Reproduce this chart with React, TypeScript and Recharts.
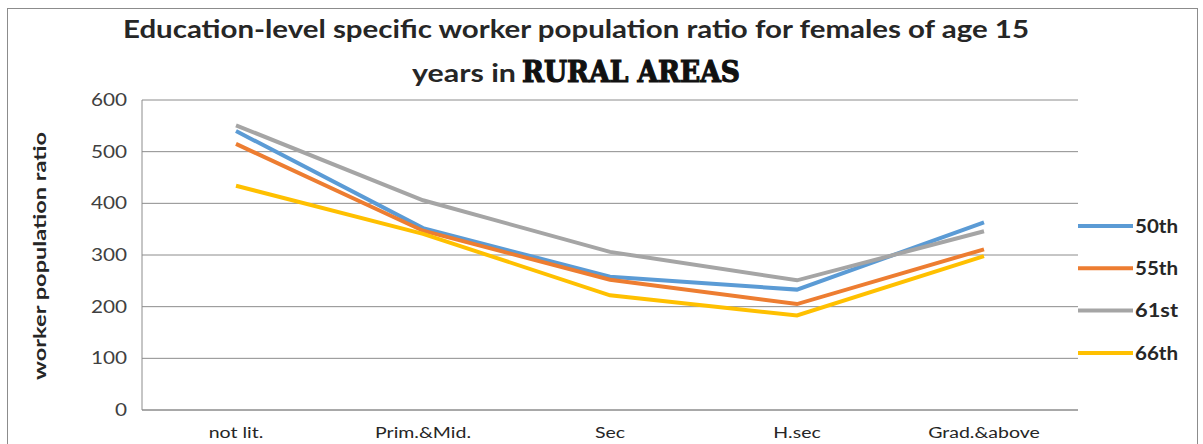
import React from 'react';
import { LineChart, Line, XAxis, YAxis, CartesianGrid } from 'recharts';

// education levels on the x axis
const levels = ['not lit.', 'Prim.&Mid.', 'Sec', 'H.sec', 'Grad.&above'];

// NSS rounds, worker population ratio per 1000
const round50 = [540, 352, 258, 233, 363];
const round55 = [515, 347, 252, 205, 311];
const round61 = [551, 406, 306, 251, 346];
const round66 = [434, 341, 222, 183, 298];

const yTicks = [0, 100, 200, 300, 400, 500, 600];

const series = [
  { key: '50th', values: round50, color: '#5B9BD5' },
  { key: '55th', values: round55, color: '#ED7D31' },
  { key: '61st', values: round61, color: '#A5A5A5' },
  { key: '66th', values: round66, color: '#FFC000' },
];

const data = levels.map((level, i) => {
  const row: Record<string, string | number> = { level };
  series.forEach((s) => {
    row[s.key] = s.values[i];
  });
  return row;
});

const FONT = 'Lato, "Open Sans", sans-serif';
const INK = '#262626';
const GRID = '#8c8c8c';
// the sheet's text is a little wider than Lato
const STRETCH = 1.22;

const XTick = (props: any) => {
  const { x, y, payload } = props;
  return (
    <g transform={`translate(${x},${y}) scale(${STRETCH},1)`}>
      <text textAnchor="middle" dy="0.71em" fill={INK} fontSize={16} fontFamily={FONT}>
        {payload.value}
      </text>
    </g>
  );
};

const YTick = (props: any) => {
  const { x, y, payload } = props;
  return (
    <g transform={`translate(${x},${y}) scale(${STRETCH},1)`}>
      <text textAnchor="end" dy="0.36em" fill="#404040" fontSize={17} fontFamily={FONT}>
        {payload.value}
      </text>
    </g>
  );
};

export default function App() {
  return (
    <div
      style={{
        position: 'absolute',
        left: 0,
        top: 0,
        width: 1203,
        height: 444,
        background: '#fff',
        overflow: 'hidden',
      }}
    >
      <LineChart
        width={1203}
        height={444}
        data={data}
        margin={{ top: 100, right: 125, bottom: 0, left: 0 }}
        style={{ position: 'absolute', left: 0, top: 0 }}
      >
        <CartesianGrid vertical={false} stroke={GRID} />
        <XAxis
          dataKey="level"
          height={34}
          padding={{ left: 94, right: 94 }}
          tickLine={false}
          tickSize={0}
          tickMargin={17}
          axisLine={{ stroke: GRID }}
          tick={<XTick />}
        />
        <YAxis
          width={142}
          domain={[0, 600]}
          ticks={yTicks}
          tickLine={false}
          tickSize={0}
          tickMargin={15}
          axisLine={{ stroke: GRID }}
          tick={<YTick />}
        />
        {series.map((s) => (
          <Line
            key={s.key}
            type="linear"
            dataKey={s.key}
            stroke={s.color}
            strokeWidth={4}
            dot={false}
            isAnimationActive={false}
          />
        ))}
      </LineChart>

      {/* frame, titles and legend drawn over the chart */}
      <svg
        width={1203}
        height={444}
        style={{ position: 'absolute', left: 0, top: 0, pointerEvents: 'none' }}
      >
        <rect x={7.5} y={8.5} width={1190} height={470} fill="none" stroke={GRID} />
        <text
          x={123}
          y={38}
          textLength={906}
          lengthAdjust="spacingAndGlyphs"
          fontFamily={FONT}
          fontWeight={700}
          fontSize={25}
          fill={INK}
        >
          Education-level specific worker population ratio for females of age 15
        </text>
        <text
          x={412}
          y={82}
          textLength={104}
          lengthAdjust="spacingAndGlyphs"
          fontFamily={FONT}
          fontWeight={700}
          fontSize={25}
          fill={INK}
        >
          years in
        </text>
        <text
          x={522}
          y={82}
          textLength={218}
          lengthAdjust="spacingAndGlyphs"
          fontFamily='"DejaVu Serif", serif'
          fontWeight={900}
          fontSize={29}
          fill="#111"
          stroke="#111"
          strokeWidth={1.2}
        >
          RURAL AREAS
        </text>
        <text
          transform="translate(46,380) rotate(-90)"
          textLength={248}
          lengthAdjust="spacingAndGlyphs"
          fontFamily={FONT}
          fontWeight={700}
          fontSize={17}
          fill={INK}
        >
          worker population ratio
        </text>
        {series.map((s, i) => (
          <g key={s.key} transform={`translate(1078,${226 + i * 42.3})`}>
            <line x1={0} x2={55} y1={0} y2={0} stroke={s.color} strokeWidth={4} />
            <text
              x={57}
              y={0}
              dy="0.36em"
              textLength={43}
              lengthAdjust="spacingAndGlyphs"
              fontFamily={FONT}
              fontWeight={700}
              fontSize={19}
              fill={INK}
            >
              {s.key}
            </text>
          </g>
        ))}
      </svg>
    </div>
  );
}
